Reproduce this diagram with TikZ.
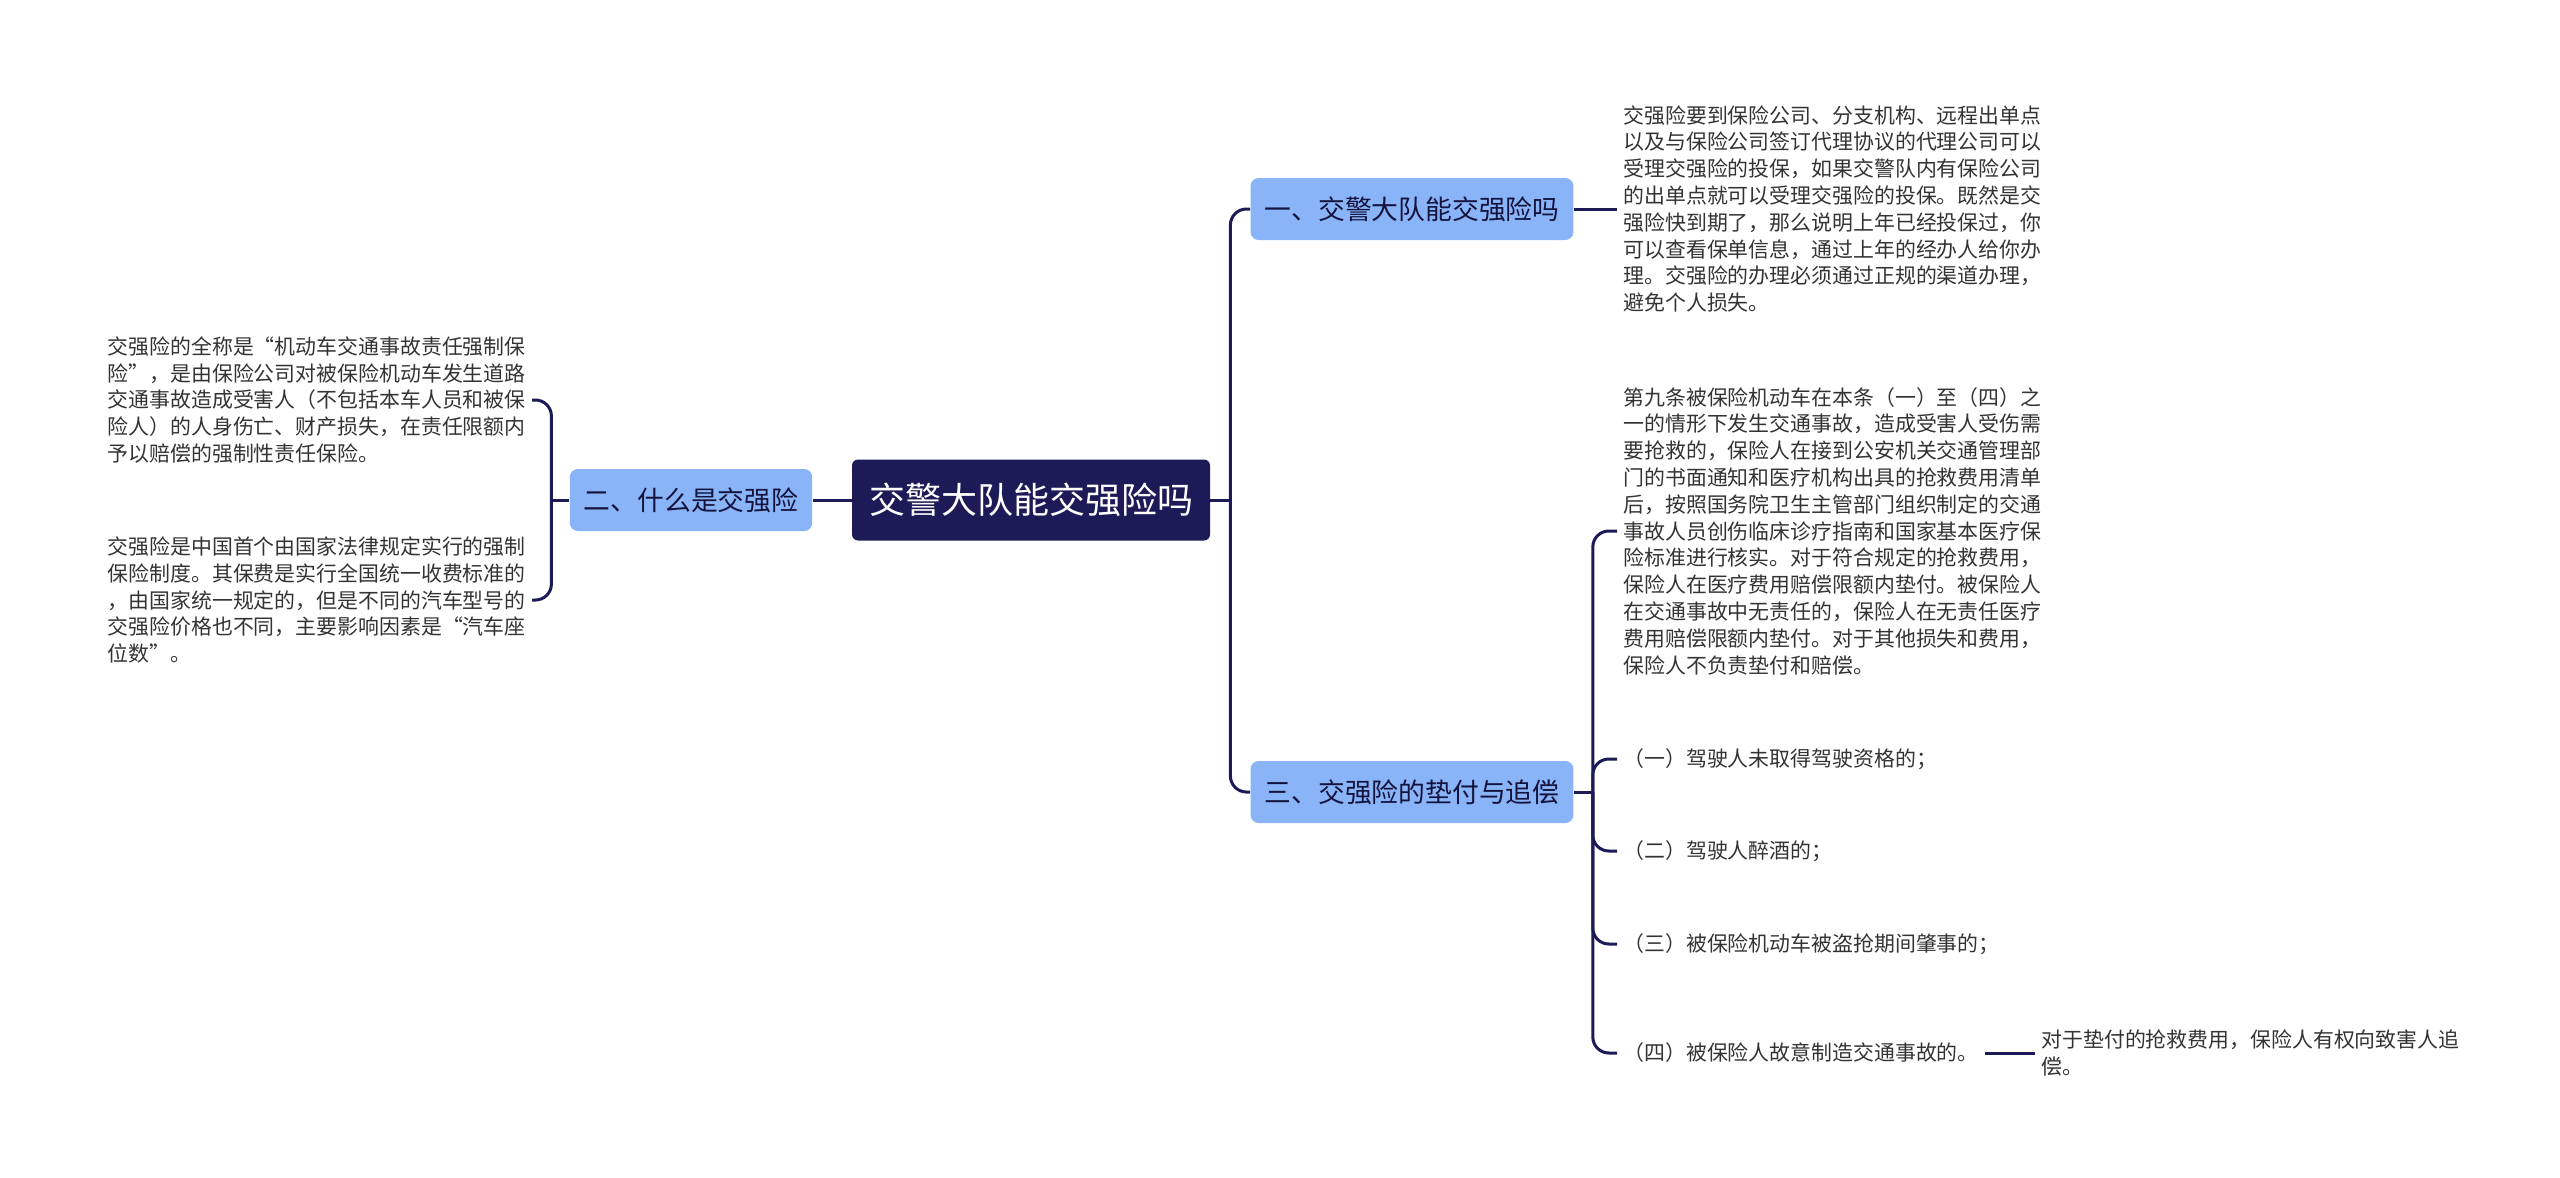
\documentclass[tikz,border=0pt]{standalone}
\usepackage{fontspec}
\setmainfont{Noto Sans CJK SC}
\usetikzlibrary{positioning}
\definecolor{navy}{HTML}{1C1B57}
\definecolor{topicblue}{HTML}{8AB4F8}
\definecolor{inkgray}{HTML}{333333}
\tikzset{
  root/.style={
    rectangle, rounded corners=3pt, fill=navy, text=white,
    minimum width=179pt, minimum height=40.5pt,
    font=\fontsize{18}{22}\selectfont
  },
  topic/.style={
    rectangle, rounded corners=4pt, fill=topicblue, text=navy!70!black,
    minimum height=31pt, inner xsep=7pt,
    font=\fontsize{13.4}{16}\selectfont
  },
  leaf/.style = {align=left, text=inkgray, inner sep=3pt, font=\fontsize{10.45}{13.4}\selectfont},
  link/.style = {draw=navy, line width=1.5pt, rounded corners=8pt},
}

\begin{document}
\begin{tikzpicture}[x=0.5pt, y=-0.5pt]
\useasboundingbox (0,0) rectangle (2560,1178);

%% ── Root and topics ─────────────────────────────────────────────────────────
\node[root]  (root) at (1031, 500) {交警大队能交强险吗};
\node[topic] (t2)   at ( 691, 500) {二、什么是交强险};
\node[topic] (t1)   at (1412, 209) {一、交警大队能交强险吗};
\node[topic] (t3)   at (1412, 792) {三、交强险的垫付与追偿};

%% ── Left leaves ─────────────────────────────────────────────────────────────
\node[leaf, anchor=east] (w1) at (532, 400) {交强险的全称是“机动车交通事故责任强制保\\
险”，是由保险公司对被保险机动车发生道路\\
交通事故造成受害人（不包括本车人员和被保\\
险人）的人身伤亡、财产损失，在责任限额内\\
予以赔偿的强制性责任保险。};
\node[leaf, anchor=east] (w2) at (532, 600) {交强险是中国首个由国家法律规定实行的强制\\
保险制度。其保费是实行全国统一收费标准的\\
，由国家统一规定的，但是不同的汽车型号的\\
交强险价格也不同，主要影响因素是“汽车座\\
位数”。};

%% ── Right leaves ────────────────────────────────────────────────────────────
\node[leaf, anchor=west] (a1) at (1617, 209) {交强险要到保险公司、分支机构、远程出单点\\
以及与保险公司签订代理协议的代理公司可以\\
受理交强险的投保，如果交警队内有保险公司\\
的出单点就可以受理交强险的投保。既然是交\\
强险快到期了，那么说明上年已经投保过，你\\
可以查看保单信息，通过上年的经办人给你办\\
理。交强险的办理必须通过正规的渠道办理，\\
避免个人损失。};
\node[leaf, anchor=west] (r0) at (1617, 531) {第九条被保险机动车在本条（一）至（四）之\\
一的情形下发生交通事故，造成受害人受伤需\\
要抢救的，保险人在接到公安机关交通管理部\\
门的书面通知和医疗机构出具的抢救费用清单\\
后，按照国务院卫生主管部门组织制定的交通\\
事故人员创伤临床诊疗指南和国家基本医疗保\\
险标准进行核实。对于符合规定的抢救费用，\\
保险人在医疗费用赔偿限额内垫付。被保险人\\
在交通事故中无责任的，保险人在无责任医疗\\
费用赔偿限额内垫付。对于其他损失和费用，\\
保险人不负责垫付和赔偿。};
\node[leaf, anchor=west] (r1) at (1617,  759) {（一）驾驶人未取得驾驶资格的；};
\node[leaf, anchor=west] (r2) at (1617,  851) {（二）驾驶人醉酒的；};
\node[leaf, anchor=west] (r3) at (1617,  944) {（三）被保险机动车被盗抢期间肇事的；};
\node[leaf, anchor=west] (r4) at (1617, 1053) {（四）被保险人故意制造交通事故的。};
\node[leaf, anchor=west] (s1) at (2035, 1053) {对于垫付的抢救费用，保险人有权向致害人追\\
偿。};

%% ── Junction points ─────────────────────────────────────────────────────────
\path (root.east) ++( 20, 0) coordinate (rj);
\path (t2.west)   ++(-18, 0) coordinate (lj);
\path (t3.east)   ++( 19, 0) coordinate (bj);

%% ── Connectors ──────────────────────────────────────────────────────────────
\draw[link] (root.west) -- (t2.east);
\draw[link] (t2.west) -- (lj);
\draw[link] (lj) |- (w1.east);
\draw[link] (lj) |- (w2.east);

\draw[link] (root.east) -- (rj);
\draw[link] (rj) |- (t1.west);
\draw[link] (rj) |- (t3.west);

\draw[link] (t1.east) -- (a1.west);

\draw[link] (t3.east) -- (bj);
\foreach \n in {r0, r1, r2, r3, r4}
  \draw[link] (bj) |- (\n.west);

\draw[link] (r4.east) -- (s1.west);

\end{tikzpicture}
\end{document}
